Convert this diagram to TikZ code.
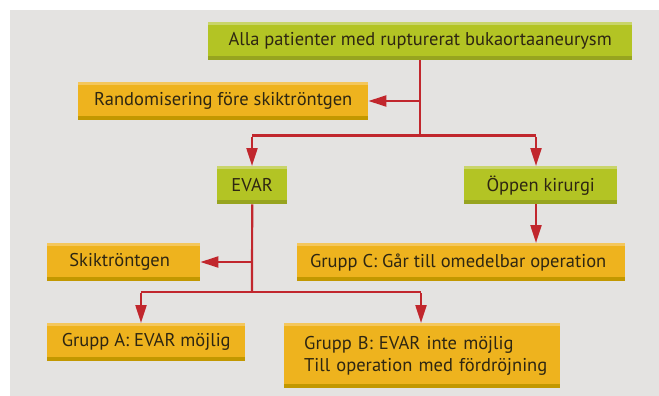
\documentclass[tikz,border=0pt]{standalone}
\usepackage{fontspec}
\setmainfont{PT Sans}
\usetikzlibrary{arrows.meta}
\definecolor{bg}{HTML}{E4E3E1}
\definecolor{grn}{HTML}{B3C424}
\definecolor{grnlt}{HTML}{C9D56A}
\definecolor{grndk}{HTML}{97A41F}
\definecolor{org}{HTML}{EEB31E}
\definecolor{orglt}{HTML}{F4C75C}
\definecolor{orgdk}{HTML}{C29800}
\definecolor{arr}{HTML}{C1272D}
\definecolor{txt}{HTML}{2E2612}
\tikzset{
  x=1pt, y=-1pt,
  basebox/.style={anchor=north west, inner sep=0pt, font=\fontsize{18.5}{22}\selectfont, text=txt},
  gbox/.style={basebox, fill=grn, path picture={
      \fill[grnlt] (path picture bounding box.north west) rectangle ([yshift=-3pt]path picture bounding box.north east);
      \fill[grndk] (path picture bounding box.south west) rectangle ([yshift=4pt]path picture bounding box.south east);}},
  obox/.style={basebox, fill=org, path picture={
      \fill[orglt] (path picture bounding box.north west) rectangle ([yshift=-3pt]path picture bounding box.north east);
      \fill[orgdk] (path picture bounding box.south west) rectangle ([yshift=4pt]path picture bounding box.south east);}},
  conn/.style={draw=arr, line width=2.2pt},
  arrowconn/.style={conn, -{Triangle[length=18pt,width=11pt]}},
}
\begin{document}
\begin{tikzpicture}
\useasboundingbox (0,0) rectangle (659,396);
\fill[bg] (10,10) rectangle (659,396);

\node[gbox, minimum width=424pt, minimum height=38pt] (top) at (208,22) {\raisebox{-1pt}{Alla patienter med rupturerat bukaortaaneurysm}};
\node[obox, minimum width=290pt, minimum height=38pt] (rand) at (78,82) {\raisebox{-1pt}{Randomisering före skiktröntgen}};
\node[gbox, minimum width=70pt, minimum height=38pt] (evar) at (217,166) {\raisebox{-1pt}{EVAR}};
\node[gbox, minimum width=153pt, minimum height=38pt] (open) at (464,166) {\raisebox{-1pt}{Öppen kirurgi}};
\node[obox, minimum width=153pt, minimum height=38pt] (skikt) at (47,243) {\raisebox{-1pt}{\hspace*{-8pt}Skiktröntgen}};
\node[obox, minimum width=328pt, minimum height=38pt] (gc) at (297,243) {\raisebox{-1pt}{\hspace*{-6pt}Grupp C: Går till omedelbar operation}};
\node[obox, minimum width=198pt, minimum height=38pt] (ga) at (47,323) {\raisebox{-1pt}{Grupp A: EVAR möjlig}};
\node[obox, minimum width=276pt, minimum height=65pt, align=left, text width=256pt, inner xsep=0pt] (gb) at (284,323)
  {\hspace*{10pt}\raisebox{-2pt}{\parbox[c]{246pt}{\baselineskip=22pt Grupp B: EVAR inte möjlig\\Till operation med fördröjning}}};

\coordinate (j1) at (420,101);
\coordinate (j2) at (420,135.5);
\coordinate (j2l) at (252,135.5);
\coordinate (j2r) at (536,135.5);
\coordinate (j3) at (252,262);
\coordinate (j4) at (252,292);
\coordinate (j4l) at (141,292);
\coordinate (j4r) at (421,292);

\draw[conn] (top.south -| j1) -- (j2);
\draw[arrowconn] (j1) -- (rand.east |- j1);
\draw[conn] (j2l) -- (j2r);
\draw[arrowconn] ([yshift=-1.1pt]j2l) -- (evar.north -| j2l);
\draw[arrowconn] ([yshift=-1.1pt]j2r) -- (open.north -| j2r);
\draw[arrowconn] (open.south -| j2r) -- (gc.north -| j2r);
\draw[conn] (evar.south) -- (j4);
\draw[arrowconn] (j3) -- (skikt.east |- j3);
\draw[conn] (j4l) -- (j4r);
\draw[arrowconn] ([yshift=-1.1pt]j4l) -- (ga.north -| j4l);
\draw[arrowconn] ([yshift=-1.1pt]j4r) -- (gb.north -| j4r);
\end{tikzpicture}
\end{document}
